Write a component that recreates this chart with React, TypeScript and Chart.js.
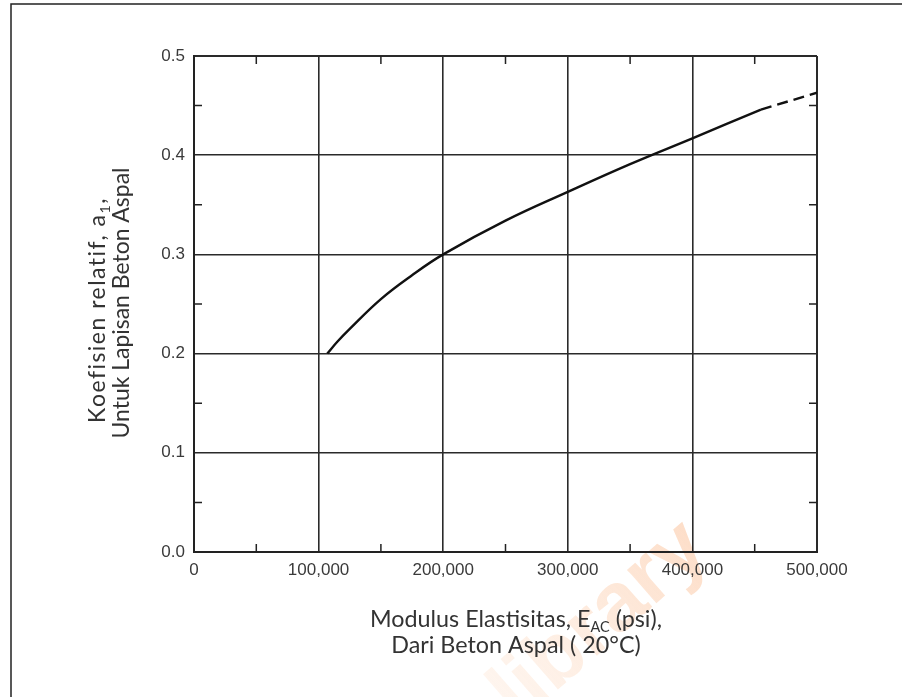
import React, { useEffect, useRef } from "react";
import { Chart, registerables } from "chart.js";

Chart.register(...registerables);

// ---- data ----
const modulusSolid = [107000, 115000, 125000, 150000, 175000, 200000, 250000, 300000, 350000, 400000, 455000];
const coefSolid = [0.2, 0.212, 0.225, 0.255, 0.279, 0.3, 0.334, 0.363, 0.391, 0.417, 0.446];
const modulusDashed = [455000, 500000];
const coefDashed = [0.446, 0.463];

const xMinorTicks = [50000, 150000, 250000, 350000, 450000];
const yMinorTicks = [0.05, 0.15, 0.25, 0.35, 0.45];

const xTitleLine1 = [
  { t: "Modulus Elastisitas, E" },
  { t: "AC", sub: true },
  { t: " (psi)," },
];
const xTitleLine2 = [{ t: "Dari Beton Aspal ( 20°C)" }];
const yTitleLine1 = [{ t: "Koefisien relatif, a" }, { t: "1", sub: true }, { t: "," }];
const yTitleLine2 = [{ t: "Untuk Lapisan Beton Aspal" }];
const watermarkText = "library";

const TITLE_FONT = 'Lato, "Open Sans", sans-serif';
const TICK_FONT = '"Liberation Sans", Arial, sans-serif';

type Run = { t: string; sub?: boolean };

function setSpacing(ctx: any, sp: number) {
  if ("letterSpacing" in ctx) ctx.letterSpacing = `${sp}px`;
}

function runsWidth(ctx: CanvasRenderingContext2D, runs: Run[], size: number, sp = 0) {
  let w = 0;
  setSpacing(ctx, sp);
  for (const r of runs) {
    const s = r.sub ? size * 0.62 : size;
    ctx.font = `${s}px ${TITLE_FONT}`;
    w += ctx.measureText(r.t).width;
  }
  setSpacing(ctx, 0);
  return w;
}

function drawRuns(ctx: CanvasRenderingContext2D, runs: Run[], size: number, cx: number, baseline: number, sp = 0) {
  const total = runsWidth(ctx, runs, size, sp);
  let x = cx - total / 2;
  ctx.textAlign = "left";
  ctx.textBaseline = "alphabetic";
  setSpacing(ctx, sp);
  for (const r of runs) {
    const s = r.sub ? size * 0.62 : size;
    ctx.font = `${s}px ${TITLE_FONT}`;
    ctx.fillText(r.t, x, baseline + (r.sub ? size * 0.2 : 0));
    x += ctx.measureText(r.t).width;
  }
  setSpacing(ctx, 0);
}

const decorPlugin = {
  id: "decor",
  beforeDraw(chart: any) {
    const ctx = chart.ctx as CanvasRenderingContext2D;
    ctx.save();
    // watermark
    ctx.translate(600, 622);
    ctx.rotate(-0.72);
    ctx.font = `bold 84px ${TICK_FONT}`;
    ctx.textAlign = "center";
    ctx.textBaseline = "middle";
    const g = ctx.createLinearGradient(-150, 0, 150, 0);
    g.addColorStop(0, "rgba(250,175,120,0.10)");
    g.addColorStop(1, "rgba(248,145,75,0.32)");
    ctx.fillStyle = g;
    ctx.fillText(watermarkText, 0, 0);
    ctx.restore();

    // outer frame of the figure
    ctx.save();
    ctx.strokeStyle = "#222";
    ctx.lineWidth = 1.5;
    ctx.beginPath();
    ctx.moveTo(11, 697);
    ctx.lineTo(11, 4);
    ctx.lineTo(902, 4);
    ctx.stroke();
    ctx.restore();
  },
  afterDraw(chart: any) {
    const ctx = chart.ctx as CanvasRenderingContext2D;
    const xs = chart.scales.x;
    const ys = chart.scales.y;
    const { left, right, top, bottom } = chart.chartArea;
    ctx.save();
    ctx.strokeStyle = "#222";
    ctx.lineWidth = 1.5;
    ctx.beginPath();
    for (const v of xMinorTicks) {
      const px = xs.getPixelForValue(v);
      ctx.moveTo(px, bottom);
      ctx.lineTo(px, bottom - 8);
      ctx.moveTo(px, top);
      ctx.lineTo(px, top + 8);
    }
    for (const v of yMinorTicks) {
      const py = ys.getPixelForValue(v);
      ctx.moveTo(left, py);
      ctx.lineTo(left + 8, py);
      ctx.moveTo(right, py);
      ctx.lineTo(right - 8, py);
    }
    ctx.stroke();

    // axis titles
    ctx.fillStyle = "#333";
    const size = 20 * (292 / runsWidth(ctx, xTitleLine1, 20));
    drawRuns(ctx, xTitleLine1, size, 516, 627);
    drawRuns(ctx, xTitleLine2, size, 516, 653);

    const ySize = 20 * (271 / runsWidth(ctx, yTitleLine2, 20));
    ctx.save();
    ctx.rotate(-Math.PI / 2);
    drawRuns(ctx, yTitleLine1, ySize, -310, 105, 1.5);
    drawRuns(ctx, yTitleLine2, ySize, -303, 129);
    ctx.restore();
    ctx.restore();
  },
};

export default function App() {
  const canvasRef = useRef<HTMLCanvasElement | null>(null);

  useEffect(() => {
    if (!canvasRef.current) return;
    const edgeWidth = (c: any) => (c.index === 0 || c.index === 5 ? 2 : 1.6);
    const chart = new Chart(canvasRef.current, {
      type: "line",
      data: {
        datasets: [
          {
            data: modulusSolid.map((x, i) => ({ x, y: coefSolid[i] })),
            borderColor: "#111",
            borderWidth: 2.4,
            pointRadius: 0,
            tension: 0.4,
            fill: false,
          },
          {
            data: modulusDashed.map((x, i) => ({ x, y: coefDashed[i] })),
            borderColor: "#111",
            borderWidth: 2.4,
            borderDash: [11, 6],
            pointRadius: 0,
            fill: false,
          },
        ],
      },
      options: {
        animation: false,
        responsive: true,
        maintainAspectRatio: false,
        layout: { padding: { left: 0, right: 85, top: 56, bottom: 0 } },
        plugins: { legend: { display: false }, tooltip: { enabled: false } },
        scales: {
          x: {
            type: "linear",
            min: 0,
            max: 500000,
            afterFit: (s: any) => {
              s.height = 145;
            },
            ticks: {
              stepSize: 100000,
              color: "#3a3a3a",
              font: { family: TICK_FONT, size: 17 },
              padding: 8,
              maxRotation: 0,
              callback: (v: any) => Number(v).toLocaleString("en-US"),
            },
            grid: { color: "#2a2a2a", lineWidth: edgeWidth, drawTicks: false },
            border: { display: true, color: "#222", width: 2 },
          },
          y: {
            type: "linear",
            min: 0,
            max: 0.5,
            afterFit: (s: any) => {
              s.width = 194;
            },
            ticks: {
              stepSize: 0.1,
              color: "#3a3a3a",
              font: { family: TICK_FONT, size: 17 },
              padding: 9,
              callback: (v: any) => Number(v).toFixed(1),
            },
            grid: { color: "#2a2a2a", lineWidth: edgeWidth, drawTicks: false },
            border: { display: true, color: "#222", width: 2 },
          },
        },
      },
      plugins: [decorPlugin],
    } as any);
    return () => chart.destroy();
  }, []);

  return (
    <div style={{ position: "fixed", left: 0, top: 0, width: 902, height: 697, background: "#fff" }}>
      <canvas ref={canvasRef} />
    </div>
  );
}
